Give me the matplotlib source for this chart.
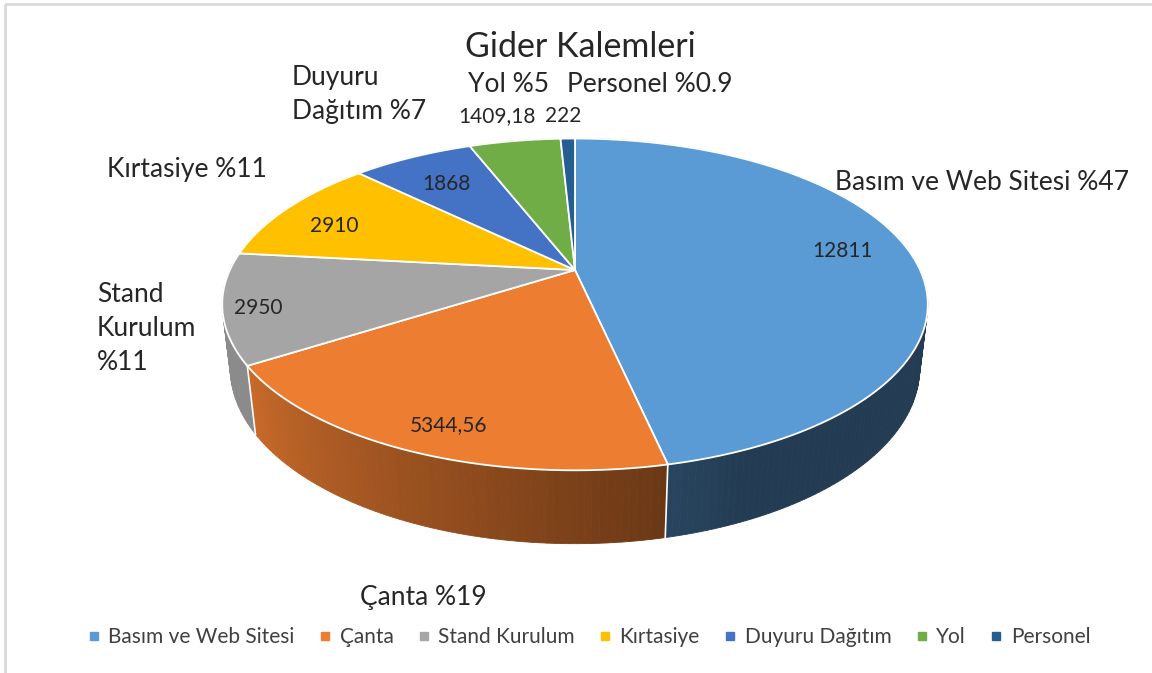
import matplotlib
matplotlib.use("Agg")
import matplotlib.pyplot as plt
import numpy as np
from matplotlib.lines import Line2D
from matplotlib.patches import Polygon, Rectangle

# Veriler
categories = ["Basım ve Web Sitesi", "Çanta", "Stand Kurulum", "Kırtasiye",
              "Duyuru Dağıtım", "Yol", "Personel"]
values = [12811, 5344.56, 2950, 2910, 1868, 1409.18, 222]
value_texts = ["12811", "5344,56", "2950", "2910", "1868", "1409,18", "222"]
category_texts = ["Basım ve Web Sitesi %47", "Çanta %19", "Stand\nKurulum\n%11",
                  "Kırtasiye %11", "Duyuru\nDağıtım %7", "Yol %5", "Personel %0.9"]
colors = ["#5B9BD5", "#ED7D31", "#A5A5A5", "#FFC000", "#4472C4", "#70AD47", "#255E91"]

# Etiket yerleşimi (piksel)
value_pos = [(843, 251), (449, 425), (258, 308), (334, 226), (446, 184), (497, 116), (563, 116)]
cat_pos = [(835, 183, "left"), (360, 597, "left"), (97, 329, "left"), (107, 170, "left"),
           (292, 95, "left"), (468, 84, "left"), (567, 84, "left")]

plt.rcParams["font.family"] = ["Lato", "DejaVu Sans"]

W, H = 1152, 673
fig = plt.figure(figsize=(W / 100, H / 100), dpi=100)
ax = fig.add_axes([0, 0, 1, 1])
ax.set_xlim(0, W)
ax.set_ylim(H, 0)
ax.axis("off")

# Perspektif geometri
CX, CY = 575, 270
FOC, DIST = 1477, 4.28
SE, CE = 0.46, np.sqrt(1 - 0.46 ** 2)
THICK = 0.21


def proj(X, Y, Z):
    v = Y * SE + Z * CE
    w = DIST + Y * CE - Z * SE
    return CX + FOC * X / w, CY - FOC * v / w


def shade(hex_color, f):
    c = np.array(matplotlib.colors.to_rgb(hex_color))
    return tuple(np.clip(c * f, 0, 1))


total = sum(values)
starts = []
a = 90.0
for v in values:
    starts.append((a, a - 360 * v / total))
    a -= 360 * v / total

# Yan duvarlar
quads = []
for (a0, a1), col in zip(starts, colors):
    n = max(2, int(abs(a0 - a1)))
    ts = np.radians(np.linspace(a0, a1, n + 1))
    for t0, t1 in zip(ts[:-1], ts[1:]):
        p = [proj(np.cos(t0), np.sin(t0), 0), proj(np.cos(t1), np.sin(t1), 0),
             proj(np.cos(t1), np.sin(t1), -THICK), proj(np.cos(t0), np.sin(t0), -THICK)]
        deg = np.degrees((t0 + t1) / 2) % 360
        f = np.clip(0.85 - (deg - 212) * 0.4 / 70, 0.39, 0.84)
        quads.append((np.sin((t0 + t1) / 2), p, shade(col, f)))
quads.sort(key=lambda q: -q[0])
for i, (_, p, c) in enumerate(quads):
    ax.add_patch(Polygon(p, closed=True, facecolor=c, edgecolor=c, lw=0.6, zorder=1 + i * 1e-4))

# Duvar dikişleri
for a0, _ in starts:
    t = np.radians(a0)
    if np.sin(t) < 0:
        x0, y0 = proj(np.cos(t), np.sin(t), 0)
        x1, y1 = proj(np.cos(t), np.sin(t), -THICK)
        ax.plot([x0, x1], [y0, y1], color="white", lw=1.2, zorder=2)

# Üst yüz
for (a0, a1), col in zip(starts, colors):
    ts = np.radians(np.linspace(a0, a1, 200))
    pts = [proj(0, 0, 0)] + [proj(np.cos(t), np.sin(t), 0) for t in ts]
    ax.add_patch(Polygon(pts, closed=True, facecolor=col, edgecolor="white", lw=1.3, zorder=3))

# Etiketler
for txt, (x, y) in zip(value_texts, value_pos):
    ax.text(x, y, txt, fontsize=15, ha="center", va="center", color="#262626", zorder=5)
for txt, (x, y, ha) in zip(category_texts, cat_pos):
    ax.text(x, y, txt, fontsize=19, ha=ha, va="center", color="#262626",
            linespacing=1.45, zorder=5)

ax.text(580, 47, "Gider Kalemleri", fontsize=24.5, ha="center", va="center", color="#262626")

# Çerçeve
ax.add_patch(Rectangle((5, 4), W, H, facecolor="none", edgecolor="#D9D9D9", lw=2, zorder=0))

# Lejant
handles = [Line2D([], [], marker="s", linestyle="none", markersize=6,
                  markerfacecolor=c, markeredgecolor=c) for c in colors]
fig.legend(handles, categories, loc="center", bbox_to_anchor=(589 / W, 1 - 637 / H),
           ncol=7, frameon=False, fontsize=15, handlelength=0.6, handletextpad=0.4,
           columnspacing=1.15, labelcolor="#404040")

fig.savefig("out.png", dpi=100)
